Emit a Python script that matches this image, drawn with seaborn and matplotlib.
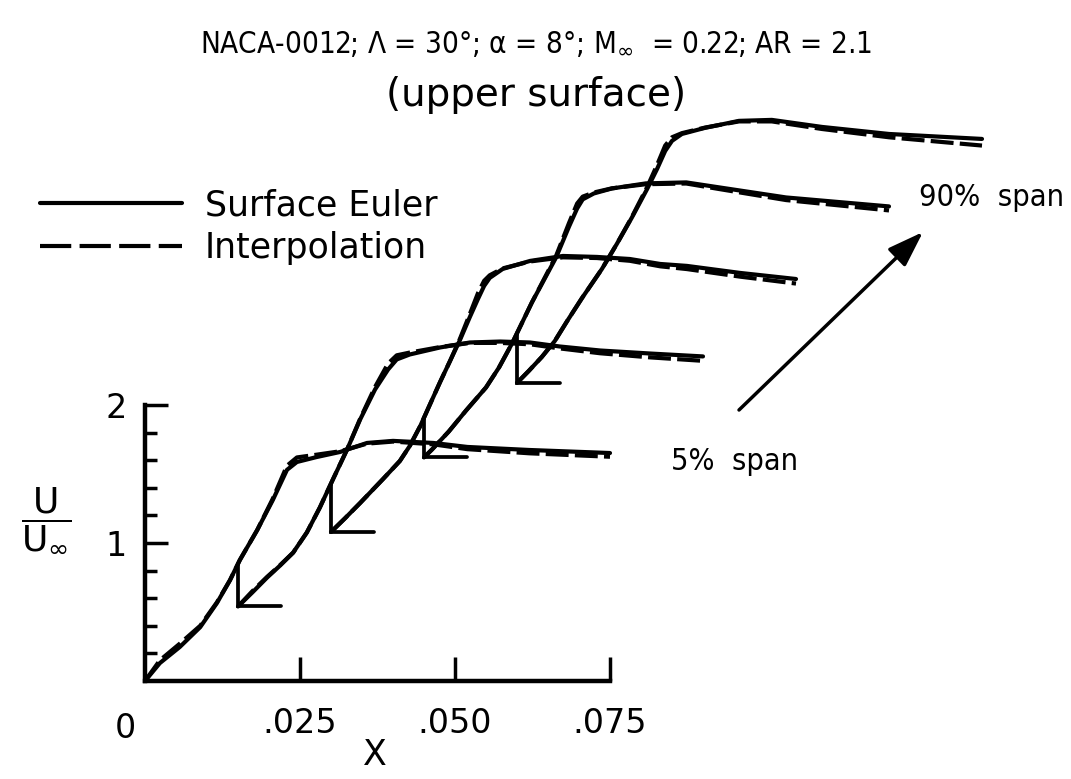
import numpy as np
import pandas as pd
import seaborn as sns
import matplotlib.pyplot as plt
from matplotlib.lines import Line2D
from matplotlib.ticker import FixedLocator
from matplotlib import font_manager
from matplotlib.font_manager import FontProperties

# local chordwise coordinate x and U/Uinf, one list per span station
# (5% span first, 90% span last); each station is drawn shifted
# by its own origin, like the original stacked plot
x1 = [0, .0024, .0056, .0089, .0116, .0137, .0153, .0181, .0206, .0229, .0245,
      .0277, .0315, .0358, .040, .0465, .052, .062, .075]
euler1 = [0, .13, .246, .39, .565, .73, .877, 1.094, 1.31, 1.53, 1.587,
          1.623, 1.66, 1.725, 1.74, 1.725, 1.696, 1.674, 1.652]
interp1 = [0, .15, .27, .40, .57, .73, .877, 1.094, 1.32, 1.56, 1.62,
           1.64, 1.665, 1.72, 1.735, 1.715, 1.68, 1.65, 1.625]

x2 = [0, .0023, .0047, .0068, .0089, .0111, .0132, .0153, .0176, .0197, .0221,
      .0242, .0256, .0277, .0326, .0374, .0423, .0471, .0519, .0584, .0665, .075]
euler2 = [0, .101, .21, .297, .391, .536, .717, .92, 1.138, 1.355, 1.572,
          1.717, 1.79, 1.826, 1.877, 1.913, 1.92, 1.913, 1.884, 1.855, 1.833, 1.812]
interp2 = [0, .11, .215, .30, .39, .536, .717, .92, 1.138, 1.36, 1.59,
           1.76, 1.82, 1.84, 1.88, 1.91, 1.91, 1.90, 1.87, 1.835, 1.805, 1.78]

x3 = [0, .0023, .0047, .0084, .0111, .0127, .0144, .016, .0176, .0192, .0208, .0224,
      .0237, .0247, .0256, .0277, .0321, .0374, .0429, .0482, .0531, .0574, .066, .075]
euler3 = [0, .101, .21, .384, .514, .623, .768, .928, 1.087, 1.239, 1.391, 1.558,
          1.688, 1.783, 1.841, 1.906, 1.964, 2.0, 1.993, 1.978, 1.942, 1.928, 1.877, 1.833]
interp3 = [0, .101, .21, .384, .514, .623, .768, .928, 1.087, 1.239, 1.40, 1.58,
           1.73, 1.82, 1.86, 1.91, 1.96, 1.99, 1.985, 1.965, 1.925, 1.905, 1.85, 1.80]

x4 = [0, .0013, .004, .0068, .01, .0121, .0142, .0174, .0213, .0234, .0247,
      .0256, .0274, .0303, .0358, .0423, .0476, .0584, .075]
euler4 = [0, .058, .188, .341, .507, .652, .826, 1.123, 1.449, 1.674, 1.804,
          1.87, 1.913, 1.949, 1.986, 1.993, 1.957, 1.884, 1.819]
interp4 = [0, .058, .188, .341, .507, .652, .826, 1.123, 1.46, 1.70, 1.84,
           1.89, 1.92, 1.95, 1.98, 1.985, 1.945, 1.865, 1.79]

x5 = [0, .0019, .004, .0061, .0081, .0105, .0137, .0161, .0185, .021, .0226,
      .0239, .025, .0266, .0303, .0358, .0411, .0492, .06, .075]
euler5 = [0, .087, .188, .304, .449, .616, .826, 1.007, 1.196, 1.406, 1.551,
          1.681, 1.754, 1.804, 1.848, 1.899, 1.906, 1.855, 1.804, 1.768]
interp5 = [0, .087, .188, .304, .449, .616, .826, 1.007, 1.2, 1.42, 1.58,
           1.72, 1.78, 1.81, 1.85, 1.895, 1.895, 1.84, 1.78, 1.72]

# origin of each station in the plot
origin_x = [0, .015, .030, .045, .060]
origin_y = [0, .54, 1.08, 1.62, 2.16]

x_ticks = [.025, .050, .075]
x_ticklabels = ['.025', '.050', '.075']
y_ticks = [1, 2]
y_minor = [.2, .4, .6, .8, 1.2, 1.4, 1.6, 1.8]

xs = [x1, x2, x3, x4, x5]
eulers = [euler1, euler2, euler3, euler4, euler5]
interps = [interp1, interp2, interp3, interp4, interp5]

rows = []
for i in range(5):
    for xv, e, p in zip(xs[i], eulers[i], interps[i]):
        rows.append((i, xv + origin_x[i], e + origin_y[i], 'Surface Euler'))
        rows.append((i, xv + origin_x[i], p + origin_y[i], 'Interpolation'))
df = pd.DataFrame(rows, columns=['span', 'x', 'u', 'source'])

sns.set_style('ticks')
plt.rcParams['font.family'] = ['DejaVu Sans']
plt.rcParams['mathtext.fontset'] = 'dejavusans'
for k in ['text.color', 'axes.labelcolor', 'xtick.color', 'ytick.color']:
    plt.rcParams[k] = 'black'

W, H = 1071, 779
fig = plt.figure(figsize=(W / 100, H / 100), dpi=100)
# axis origin at pixel (145, 681); 6200 px per x unit, 138 px per y unit
ax = fig.add_axes([145 / W, (H - 681) / H, 855.6 / W, 579.6 / H])
ax.set_xlim(0, 0.138)
ax.set_ylim(0, 4.2)

lw = 3.0
sns.lineplot(data=df[df.source == 'Surface Euler'], x='x', y='u', units='span',
             estimator=None, sort=False, color='black', lw=lw, ax=ax, legend=False)
sns.lineplot(data=df[df.source == 'Interpolation'], x='x', y='u', units='span',
             estimator=None, sort=False, color='black', lw=lw, ax=ax, legend=False,
             linestyle=(0, (5.5, 1.5)))

# local axis stubs for stations 2..5, hidden behind the previous station
stub_len = 0.007
for i in range(1, 5):
    ox, oy = origin_x[i], origin_y[i]
    top = np.interp(ox - origin_x[i - 1], xs[i - 1], eulers[i - 1]) + origin_y[i - 1]
    ax.plot([ox, ox, ox + stub_len], [top, oy, oy], color='black', lw=2.7,
            solid_joinstyle='miter')

for s in ['top', 'right']:
    ax.spines[s].set_visible(False)
ax.spines['left'].set_bounds(0, 2)
ax.spines['bottom'].set_bounds(0, 0.075)
for s in ['left', 'bottom']:
    ax.spines[s].set_linewidth(3.2)
    ax.spines[s].set_color('black')

ax.set_xticks(x_ticks)
ax.set_xticklabels(x_ticklabels)
ax.set_yticks(y_ticks)
ax.set_yticklabels([str(v) for v in y_ticks])
ax.yaxis.set_minor_locator(FixedLocator(y_minor))
ax.tick_params(axis='x', direction='in', length=17, width=2.5, pad=19,
               labelsize=24)
ax.tick_params(axis='y', which='major', direction='in', length=16.5, width=2.5,
               pad=13, labelsize=24)
ax.tick_params(axis='y', which='minor', direction='in', length=8.6, width=2.5)
ax.annotate('0', xy=(0, 0), xytext=(-14, -34), textcoords='offset points',
            ha='center', va='center', fontsize=24)

ax.set_xlabel('X', fontsize=25)
ax.xaxis.set_label_coords((375 - 145) / 855.6, (681 - 738) / 579.6)
ax.set_ylabel(r'$\dfrac{\mathrm{U}}{\mathrm{U}_{\infty}}$', rotation=0,
              fontsize=26, ha='center', va='center')
ax.yaxis.set_label_coords((46 - 145) / 855.6, (681 - 520) / 579.6)

# legend
handles = [Line2D([], [], color='black', lw=lw),
           Line2D([], [], color='black', lw=lw, linestyle=(0, (7.5, 2)))]
ax.legend(handles, ['Surface Euler', 'Interpolation'], loc='upper left',
          bbox_to_anchor=(40 / W, 1 - 188 / H), bbox_transform=fig.transFigure,
          frameon=False, fontsize=25, handlelength=4.1, handletextpad=0.65,
          labelspacing=0.25, borderpad=0, borderaxespad=0)

# narrow face for the plotter-style labels, if one is installed
narrow_font = FontProperties(family='DejaVu Sans', size=20)
for f in font_manager.fontManager.ttflist:
    n = f.name.lower()
    if (('narrow' in n or 'condensed' in n or f.stretch in ('condensed', 'semi-condensed'))
            and f.style == 'normal' and f.weight in (400, 'normal', 'regular')
            and 'mono' not in n and 'serif' not in n.replace('sans', '')):
        narrow_font = FontProperties(fname=f.fname, size=24)
        break

renderer = fig.canvas.get_renderer()


def fit_width(txt, width, cap):
    w = txt.get_window_extent(renderer).width
    txt.set_fontsize(min(txt.get_fontsize() * width / w, cap))


title = fig.text(536 / W, 1 - 43 / H,
                 'NACA-0012; \u039b = 30\u00b0; \u03b1 = 8\u00b0; M$_{\\infty}$  = 0.22; AR = 2.1',
                 ha='center', va='center', fontproperties=narrow_font.copy())
fit_width(title, 673, 28)
fig.text(536 / W, 1 - 95 / H, '(upper surface)', ha='center', va='center',
         fontsize=28)

# span direction arrow
ax.annotate('', xy=((923 - 145) / 855.6, (681 - 232) / 579.6),
            xytext=((739 - 145) / 855.6, (681 - 410) / 579.6),
            xycoords='axes fraction', textcoords='axes fraction',
            arrowprops=dict(arrowstyle='-|>,head_length=1.1,head_width=0.38',
                            mutation_scale=20, lw=2.5, color='black',
                            shrinkA=0, shrinkB=0))
t90 = fig.text(919 / W, 1 - 198 / H, '90%  span', ha='left', va='center',
               fontproperties=narrow_font.copy())
fit_width(t90, 145, 26)
t5 = fig.text(671 / W, 1 - 462 / H, '5%  span', ha='left', va='center',
              fontproperties=narrow_font.copy())
fit_width(t5, 127, 26)

fig.savefig('out.png', dpi=100)
